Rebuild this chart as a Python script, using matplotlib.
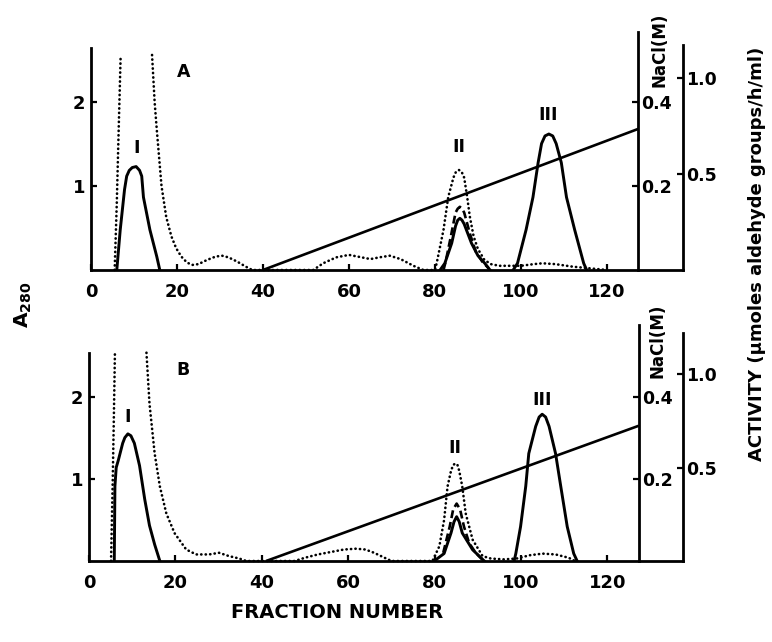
import numpy as np
import matplotlib
matplotlib.use("Agg")
import matplotlib.pyplot as plt

nan = np.nan
plt.rcParams['font.family'] = ['DejaVu Sans']
plt.rcParams['font.weight'] = 'bold'

# ---------------- data ----------------
x_ticks = [0, 20, 40, 60, 80, 100, 120]
a280_ticks = [1, 2]
nacl_ticks = [0.2, 0.4]
act_ticks = [0.5, 1.0]
act_tick_labels = ["0.5", "1.0"]

# Panel A : A280 (dotted)
A_dot_frac = [5.5, 6.0, 6.4, 6.9, 10.0, 14.2, 14.8, 15.3, 16.4, 17.5, 18.7, 19.8, 21.0, 22.3, 23.5,
              25.0, 27.0, 29.0, 30.5, 32.0, 34.0, 36.0, 37.5, 51.7, 54.0, 57.0, 60.0, 63.0, 65.0,
              67.0, 69.5, 72.0, 75.0, 77.3, 80.0, 80.4, 82.0, 83.1, 84.3, 84.9, 85.6, 86.2, 86.8,
              87.5, 88.1, 89.0, 90.0, 91.5, 93.0, 95.0, 97.0, 100.0, 103.0, 105.0, 108.0, 112.0,
              116.0, 120.0]
A_dot_a280 = [0, 0.8, 1.6, 2.56, nan, 2.56, 2.0, 1.67, 1.0, 0.63, 0.4, 0.26, 0.16, 0.09, 0.06,
              0.07, 0.12, 0.16, 0.17, 0.15, 0.10, 0.04, 0.0, 0.0, 0.08, 0.15, 0.18, 0.15, 0.13,
              0.15, 0.17, 0.13, 0.05, 0.0, 0.0, 0.08, 0.48, 0.87, 1.10, 1.17, 1.19, 1.17, 1.10,
              0.87, 0.64, 0.40, 0.25, 0.12, 0.07, 0.05, 0.05, 0.05, 0.07, 0.08, 0.07, 0.04,
              0.02, 0.0]
# Panel A : activity (solid), peaks I, II, III
A_act1_frac = [6.0, 6.8, 7.8, 8.3, 8.9, 9.6, 10.5, 11.3, 11.8, 12.2, 13.7, 15.3, 16.0]
A_act1_val = [0, 0.21, 0.42, 0.49, 0.52, 0.535, 0.54, 0.52, 0.49, 0.38, 0.21, 0.07, 0]
A_act2_frac = [81.2, 82.3, 83.9, 84.8, 85.3, 85.8, 86.3, 86.8, 88.5, 90.0, 91.6, 92.8]
A_act2_val = [0, 0.035, 0.14, 0.23, 0.26, 0.27, 0.26, 0.24, 0.14, 0.075, 0.035, 0]
A_act3_frac = [98.2, 99.2, 101.2, 102.8, 104.0, 104.8, 105.6, 106.5, 107.4, 108.2, 109.4, 110.6,
               112.5, 114.6, 115.3]
A_act3_val = [0, 0.035, 0.21, 0.38, 0.56, 0.66, 0.70, 0.71, 0.70, 0.66, 0.56, 0.38, 0.21, 0.035, 0]
# Panel A : activity (dashed), peak II
A_dash_frac = [82.0, 82.5, 83.7, 84.8, 85.3, 85.8, 86.3, 86.8, 88.2, 89.5, 91.0, 92.5]
A_dash_val = [0, 0.044, 0.175, 0.30, 0.32, 0.33, 0.32, 0.30, 0.185, 0.096, 0.044, 0.009]
# Panel A : NaCl gradient
A_grad_frac = [40.0, 127.3]
A_grad_nacl = [0.0, 0.336]

# Panel B : A280 (dotted)
B_dot_frac = [5.1, 5.5, 5.8, 6.0, 10.0, 13.3, 14.0, 15.2, 16.4, 17.9, 19.8, 22.5, 24.8, 27.8, 30.1,
              32.4, 34.8, 36.4, 47.6, 50.0, 53.0, 56.0, 59.0, 61.8, 64.0, 66.0, 68.0, 70.0, 79.5,
              81.1, 82.2, 83.0, 83.8, 84.3, 84.8, 85.3, 85.7, 86.4, 87.2, 88.8, 91.1, 93.0, 96.0,
              99.0, 102.0, 105.0, 108.0, 111.0, 112.5]
B_dot_a280 = [0, 1.0, 1.9, 2.54, nan, 2.54, 1.92, 1.31, 0.91, 0.58, 0.34, 0.14, 0.08, 0.08, 0.10,
              0.06, 0.03, 0.0, 0.0, 0.04, 0.08, 0.11, 0.14, 0.15, 0.14, 0.10, 0.05, 0.0, 0.0,
              0.18, 0.50, 0.91, 1.10, 1.17, 1.19, 1.17, 1.10, 0.91, 0.58, 0.26, 0.06, 0.03, 0.02,
              0.03, 0.07, 0.09, 0.08, 0.04, 0.0]
# Panel B : activity (solid)
B_act1_frac = [5.85, 6.0, 6.3, 6.8, 7.8, 8.3, 9.0, 9.7, 10.5, 11.7, 12.9, 14.0, 15.2, 16.4]
B_act1_val = [0, 0.40, 0.50, 0.54, 0.63, 0.66, 0.68, 0.67, 0.63, 0.51, 0.33, 0.19, 0.088, 0]
B_act2_frac = [79.9, 82.2, 83.8, 84.5, 85.1, 85.7, 86.4, 88.8, 91.5]
B_act2_val = [0, 0.04, 0.15, 0.21, 0.237, 0.21, 0.15, 0.06, 0]
B_act3_frac = [98.4, 98.8, 99.9, 101.1, 101.8, 103.4, 104.2, 104.9, 105.7, 106.5, 108.0, 109.2,
               110.7, 112.2, 113.0]
B_act3_val = [0, 0.04, 0.184, 0.40, 0.575, 0.72, 0.77, 0.785, 0.77, 0.72, 0.575, 0.40, 0.184,
              0.04, 0]
B_dash_frac = [82.0, 83.5, 84.3, 85.1, 85.9, 86.8, 88.0, 89.5, 91.0]
B_dash_val = [0.044, 0.184, 0.276, 0.307, 0.276, 0.184, 0.096, 0.044, 0.009]
B_grad_frac = [41.0, 127.3]
B_grad_nacl = [0.0, 0.33]

# ---------------- layout ----------------
W, H = 772, 642
fig = plt.figure(figsize=(W / 100, H / 100), dpi=100)

NACL_PER_A280 = 1 / 5.0
ACT_PER_A280 = 1 / 2.28
FS = 12.5

panels = [
    dict(name="A", rect=(91 / W, (H - 270) / H, 592 / W, 2.9 * 84 / H), xmax=137.7,
         left_top=2.64, nacl_top=2.83, act_top=2.68,
         dot=(A_dot_frac, A_dot_a280),
         act=[(A_act1_frac, A_act1_val), (A_act2_frac, A_act2_val), (A_act3_frac, A_act3_val)],
         dash=(A_dash_frac, A_dash_val), grad=(A_grad_frac, A_grad_nacl),
         letter=(21.6, 2.36), lab_I=(10.5, 1.45), lab_II=(85.6, 1.46), lab_III=(106.3, 1.85),
         nacl_lab=(659, 87)),
    dict(name="B", rect=(89 / W, (H - 561) / H, 594 / W, 2.9 * 82 / H), xmax=137.5,
         left_top=2.54, nacl_top=2.88, act_top=2.78,
         dot=(B_dot_frac, B_dot_a280),
         act=[(B_act1_frac, B_act1_val), (B_act2_frac, B_act2_val), (B_act3_frac, B_act3_val)],
         dash=(B_dash_frac, B_dash_val), grad=(B_grad_frac, B_grad_nacl),
         letter=(21.7, 2.33), lab_I=(9.0, 1.76), lab_II=(84.8, 1.38), lab_III=(104.9, 1.96),
         nacl_lab=(658, 378)),
]

LW_AX = 2.0
for p in panels:
    ax = fig.add_axes(p["rect"])
    ymax = 2.9
    ax.set_xlim(0, p["xmax"])
    ax.set_ylim(0, ymax)
    for s in ("top", "right"):
        ax.spines[s].set_visible(False)
    ax.spines["left"].set_bounds(0, p["left_top"])
    ax.spines["bottom"].set_bounds(0, p["xmax"])
    for s in ("left", "bottom"):
        ax.spines[s].set_linewidth(LW_AX)
    ax.set_xticks(x_ticks)
    ax.set_xticklabels([str(v) for v in x_ticks])
    ax.set_yticks(a280_ticks)
    ax.set_yticklabels([str(v) for v in a280_ticks])
    ax.tick_params(axis="x", direction="in", length=4, width=1.6, pad=9, labelsize=FS + 0.5)
    ax.tick_params(axis="y", direction="in", length=4, width=1.6, pad=4, labelsize=FS + 0.5)
    ax.patch.set_visible(False)

    # A280 dotted
    ax.plot(p["dot"][0], p["dot"][1], color="black", lw=1.9,
            linestyle=(0, (0.1, 1.6)), dash_capstyle="round", clip_on=False)

    # NaCl axis
    ax2 = ax.twinx()
    ax2.set_ylim(0, ymax * NACL_PER_A280)
    for s in ("top", "left", "bottom"):
        ax2.spines[s].set_visible(False)
    ax2.spines["right"].set_position(("data", 127.3))
    ax2.spines["right"].set_bounds(0, p["nacl_top"] * NACL_PER_A280)
    ax2.spines["right"].set_linewidth(LW_AX)
    ax2.set_yticks(nacl_ticks)
    ax2.set_yticklabels(["0.2", "0.4"])
    ax2.tick_params(axis="y", direction="in", length=4, width=1.6, pad=2, labelsize=FS)
    ax2.plot(p["grad"][0], p["grad"][1], color="black", lw=1.9, solid_capstyle="butt")

    # Activity axis
    ax3 = ax.twinx()
    ax3.set_ylim(0, ymax * ACT_PER_A280)
    for s in ("top", "left", "bottom"):
        ax3.spines[s].set_visible(False)
    ax3.spines["right"].set_bounds(0, p["act_top"] * ACT_PER_A280)
    ax3.spines["right"].set_linewidth(LW_AX)
    ax3.set_yticks(act_ticks)
    ax3.set_yticklabels(act_tick_labels)
    ax3.tick_params(axis="y", direction="in", length=4, width=1.6, pad=2, labelsize=FS)
    for fr, v in p["act"]:
        ax3.plot(fr, v, color="black", lw=2.1, solid_joinstyle="round")
    ax3.plot(p["dash"][0], p["dash"][1], color="black", lw=1.9, linestyle=(0, (3, 1.5)))

    # labels
    ax.text(*p["letter"], p["name"], ha="center", va="center", fontsize=FS, fontweight="bold")
    ax.text(*p["lab_I"], "I", ha="center", va="center", fontsize=FS, fontweight="bold")
    ax.text(*p["lab_II"], "II", ha="center", va="center", fontsize=FS, fontweight="bold")
    ax.text(*p["lab_III"], "III", ha="center", va="center", fontsize=FS, fontweight="bold")
    nx, ny = p["nacl_lab"]
    fig.text(nx / W, 1 - ny / H, "NaCl(M)", rotation=90, ha="center", va="bottom",
             fontsize=FS - 0.5, fontweight="bold")

fig.text(23 / W, 1 - 305 / H, r"A$_{\mathbf{280}}$", rotation=90, ha="center", va="center",
         fontsize=FS + 2, fontweight="bold")
fig.text(337 / W, 1 - 612 / H, "FRACTION NUMBER", ha="center", va="center",
         fontsize=FS + 1.5, fontweight="bold")
fig.text(757 / W, 1 - 254 / H, "ACTIVITY (\u00b5moles aldehyde groups/h/ml)", rotation=90,
         ha="center", va="center", fontsize=FS + 0.5, fontweight="bold")

fig.savefig("out.png", dpi=100)
